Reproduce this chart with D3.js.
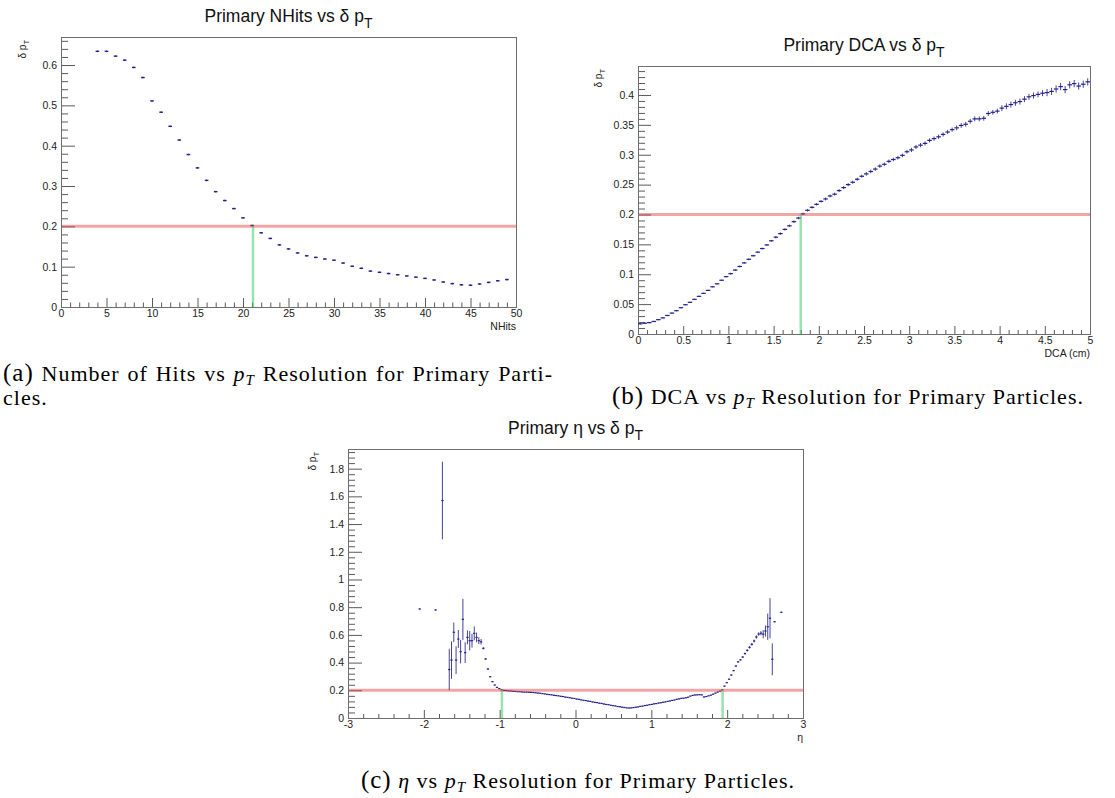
<!DOCTYPE html>
<html><head><meta charset="utf-8">
<script src="https://cdn.jsdelivr.net/npm/d3@7"></script>
<style>body{margin:0;background:#fff;} svg{display:block;}</style>
</head><body>
<svg id="c" width="1115" height="798"></svg>
<script>
// ================= DATA =================
const threshold = 0.2;

// (a) NHits vs delta pT
const nhits = [4,5,6,7,8,9,10,11,12,13,14,15,16,17,18,19,20,21,22,23,24,25,26,27,28,29,30,31,32,33,34,35,36,37,38,39,40,41,42,43,44,45,46,47,48,49];
const nhitsRes = [0.634,0.634,0.622,0.612,0.594,0.569,0.511,0.483,0.448,0.414,0.378,0.345,0.314,0.286,0.264,0.244,0.221,0.202,0.184,0.170,0.154,0.144,0.134,0.127,0.123,0.119,0.116,0.109,0.101,0.096,0.089,0.086,0.083,0.080,0.077,0.074,0.071,0.067,0.062,0.058,0.055,0.054,0.057,0.061,0.065,0.068];
const nhitsErr = [0.002,0.002,0.002,0.002,0.002,0.002,0.002,0.002,0.002,0.002,0.002,0.002,0.002,0.002,0.002,0.002,0.002,0.002,0.002,0.002,0.002,0.002,0.002,0.002,0.002,0.002,0.002,0.002,0.002,0.002,0.002,0.002,0.002,0.002,0.002,0.002,0.002,0.002,0.002,0.002,0.002,0.002,0.002,0.002,0.002,0.002];
const nhitsCross = [21.1];
const aXTicks = [0,5,10,15,20,25,30,35,40,45,50];
const aYTicks = [0,0.1,0.2,0.3,0.4,0.5,0.6];

// (b) DCA vs delta pT : 100 bins of 0.05 cm from 0 to 5
const dcaBinWidth = 0.05;
const dcaRes = [
0.017,0.018,0.019,0.021,0.024,0.027,0.031,0.035,0.039,0.044,
0.049,0.053,0.058,0.063,0.068,0.073,0.079,0.084,0.090,0.096,
0.101,0.107,0.113,0.119,0.125,0.131,0.137,0.143,0.149,0.156,
0.162,0.168,0.175,0.181,0.188,0.194,0.201,0.207,0.212,0.217,
0.222,0.226,0.231,0.234,0.240,0.245,0.250,0.254,0.259,0.264,
0.268,0.272,0.276,0.281,0.284,0.289,0.292,0.295,0.299,0.305,
0.308,0.313,0.316,0.319,0.324,0.327,0.330,0.334,0.338,0.342,
0.345,0.349,0.351,0.356,0.360,0.360,0.361,0.369,0.371,0.373,
0.378,0.381,0.384,0.387,0.389,0.393,0.397,0.399,0.401,0.403,
0.404,0.406,0.410,0.414,0.409,0.417,0.419,0.415,0.418,0.422];
const dcaErr = [
0.001,0.001,0.001,0.001,0.001,0.001,0.001,0.001,0.001,0.001,
0.001,0.001,0.001,0.001,0.001,0.001,0.001,0.001,0.001,0.001,
0.0015,0.0015,0.0015,0.0015,0.0015,0.0015,0.0015,0.0015,0.0015,0.0015,
0.002,0.002,0.002,0.002,0.002,0.002,0.002,0.002,0.002,0.002,
0.002,0.0025,0.0025,0.0025,0.0025,0.0025,0.0025,0.0025,0.0025,0.0025,
0.003,0.003,0.003,0.003,0.003,0.003,0.003,0.003,0.003,0.003,
0.0035,0.0035,0.0035,0.0035,0.0035,0.0035,0.0035,0.0035,0.0035,0.0035,
0.004,0.004,0.004,0.004,0.004,0.004,0.004,0.004,0.004,0.004,
0.005,0.005,0.005,0.005,0.005,0.005,0.005,0.005,0.005,0.005,
0.006,0.006,0.006,0.006,0.006,0.006,0.006,0.006,0.006,0.006];
const dcaCross = [1.8];
const bXTicks = [0,0.5,1,1.5,2,2.5,3,3.5,4,4.5,5];
const bYTicks = [0,0.05,0.1,0.15,0.2,0.25,0.3,0.35,0.4];

// (c) eta vs delta pT : bins of 0.03 from -3 to 3; listed from bin 31 (eta=-2.055) to bin 190 (eta=2.715); null = empty bin
const etaBinWidth = 0.03;
const etaFirstBin = 31;
const etaRes = [
0.787,null,null,null,null,null,null,0.780,null,null,
1.57,null,null,0.35,0.418,0.619,0.418,0.570,0.479,0.712,
0.472,0.582,0.558,0.558,0.611,0.582,0.558,0.550,0.503,0.426,
0.354,0.298,0.262,0.238,0.221,0.212,0.203,0.199,0.198,0.196,
0.195,0.193,0.192,0.190,0.190,0.188,0.187,0.187,0.186,0.185,
0.184,0.182,0.180,0.179,0.176,0.174,0.171,0.169,0.167,0.164,
0.162,0.160,0.157,0.155,0.151,0.149,0.146,0.143,0.141,0.137,
0.135,0.131,0.128,0.126,0.122,0.120,0.116,0.113,0.111,0.107,
0.105,0.101,0.098,0.096,0.092,0.089,0.087,0.083,0.081,0.078,
0.076,0.073,0.072,0.073,0.075,0.078,0.080,0.084,0.086,0.090,
0.092,0.096,0.098,0.102,0.104,0.108,0.110,0.114,0.116,0.120,
0.123,0.127,0.130,0.135,0.138,0.142,0.143,0.146,0.150,0.158,
0.163,0.166,0.167,0.168,0.167,0.152,0.155,0.160,0.165,0.172,
0.180,0.187,0.194,0.203,0.230,0.255,0.280,0.310,0.342,0.375,
0.405,0.420,0.440,0.465,0.488,0.510,0.532,0.556,0.585,0.606,
0.612,0.605,0.628,0.659,0.720,0.424,0.695,null,null,0.763];
const etaErr = [
0.004,null,null,null,null,null,null,0.004,null,null,
0.28,null,null,0.15,0.135,0.07,0.10,0.065,0.085,0.148,
0.075,0.05,0.07,0.05,0.05,0.035,0.025,0.02,0.008,0.006,
0.005,0.004,0.003,0.003,0.002,0.002,0.002,0.002,0.002,0.002,
0.002,0.002,0.002,0.002,0.002,0.002,0.002,0.002,0.002,0.002,
0.002,0.002,0.002,0.002,0.002,0.002,0.002,0.002,0.002,0.002,
0.002,0.002,0.002,0.002,0.002,0.002,0.002,0.002,0.002,0.002,
0.002,0.002,0.002,0.002,0.002,0.002,0.002,0.002,0.002,0.002,
0.002,0.002,0.002,0.002,0.002,0.002,0.002,0.002,0.002,0.002,
0.002,0.002,0.002,0.002,0.002,0.002,0.002,0.002,0.002,0.002,
0.002,0.002,0.002,0.002,0.002,0.002,0.002,0.002,0.002,0.002,
0.002,0.002,0.002,0.002,0.002,0.002,0.002,0.002,0.002,0.002,
0.002,0.002,0.002,0.002,0.002,0.002,0.002,0.002,0.002,0.002,
0.002,0.002,0.002,0.002,0.003,0.003,0.003,0.004,0.004,0.005,
0.005,0.006,0.006,0.007,0.008,0.009,0.010,0.010,0.012,0.012,
0.015,0.03,0.04,0.095,0.145,0.115,0.004,null,null,0.004];
const etaCross = [-0.97, 1.94];
const cXTicks = [-3,-2,-1,0,1,2,3];
const cYTicks = [0,0.2,0.4,0.6,0.8,1,1.2,1.4,1.6,1.8];

// ================= DRAWING =================
const svg = d3.select("#c");
const SANS = "'Liberation Sans', Arial, Helvetica, sans-serif";
const SERIF = "'Liberation Serif', 'Times New Roman', serif";
const MARK = "#22228c";
const FRAME = "#6e6e6e";
const TICK = "#5a5a5a";

function minorTicks(major, step, dom) {
  const out = [];
  const n = Math.round((dom[1] - dom[0]) / step);
  for (let i = 0; i <= n; i++) {
    const v = +(dom[0] + i * step).toFixed(6);
    if (v > dom[1] + 1e-9) break;
    if (!major.some(t => Math.abs(t - v) < 1e-9)) out.push(v);
  }
  return out;
}

function panel(o) {
  const x = d3.scaleLinear().domain(o.xDomain).range([o.x0, o.x1]);
  const y = d3.scaleLinear().domain(o.yDomain).range([o.y1, o.y0]);
  const g = svg.append("g");
  const style = s => {
    s.select(".domain").remove();
    s.selectAll("line").attr("stroke", TICK).attr("stroke-width", 1);
    s.selectAll("text").attr("font-family", SANS).attr("font-size", 10.5).attr("fill", "#222");
  };
  const xMin = minorTicks(o.xTicks, o.xMinorStep, o.xDomain);
  const yMin = minorTicks(o.yTicks, o.yMinorStep, [0, o.yDomain[1]]);
  g.append("g").attr("transform", `translate(0,${o.y1})`)
    .call(d3.axisBottom(x).tickValues(xMin).tickSize(-o.xMinLen).tickFormat("")).call(style);
  g.append("g").attr("transform", `translate(0,${o.y1})`)
    .call(d3.axisBottom(x).tickValues(o.xTicks).tickSize(-o.xMajLen).tickPadding(3).tickFormat(d => String(d))).call(style);
  g.append("g").attr("transform", `translate(${o.x0},0)`)
    .call(d3.axisLeft(y).tickValues(yMin).tickSize(-o.yMinLen).tickFormat("")).call(style);
  g.append("g").attr("transform", `translate(${o.x0},0)`)
    .call(d3.axisLeft(y).tickValues(o.yTicks).tickSize(-o.yMajLen).tickPadding(4).tickFormat(d => String(d))).call(style);
  // frame
  g.append("rect").attr("x", o.x0 + 0.5).attr("y", o.y0 + 0.5)
    .attr("width", o.x1 - o.x0).attr("height", o.y1 - o.y0)
    .attr("fill", "none").attr("stroke", FRAME).attr("stroke-width", 1);
  // data
  const d = g.append("g").attr("stroke", MARK).attr("fill", "none");
  o.points.forEach(p => {
    const hw = o.halfWidthPx != null ? o.halfWidthPx : (x(p.x + o.halfBin) - x(p.x - o.halfBin)) / 2;
    const cx = x(p.x), cy = y(p.v);
    d.append("line").attr("x1", cx - hw).attr("x2", cx + hw).attr("y1", cy).attr("y2", cy).attr("stroke-width", o.markW || 1.2);
    d.append("line").attr("x1", cx).attr("x2", cx).attr("y1", y(p.v - p.e)).attr("y2", y(p.v + p.e)).attr("stroke-width", 1).attr("stroke-opacity", 0.85);
  });
  // threshold line and crossings
  g.append("line").attr("x1", o.x0 + 1).attr("x2", o.x1).attr("y1", y(threshold)).attr("y2", y(threshold))
    .attr("stroke", "#e03a3a").attr("stroke-opacity", 0.45).attr("stroke-width", 3);
  o.cross.forEach(c => {
    g.append("line").attr("x1", x(c)).attr("x2", x(c)).attr("y1", y(0)).attr("y2", y(threshold))
      .attr("stroke", "#33c860").attr("stroke-opacity", 0.5).attr("stroke-width", 2.5);
  });
  // title
  const t = svg.append("text").attr("x", (o.x0 + o.x1) / 2).attr("y", o.y0 - 15)
    .attr("text-anchor", "middle").attr("font-family", SANS).attr("font-size", 17.5).attr("fill", "#111");
  t.append("tspan").text(o.title + " p");
  t.append("tspan").attr("dy", 6).attr("font-size", 14).text("T");
  // y-axis title
  const yt = svg.append("text").attr("transform", `translate(${o.yTitleX},${o.y0 + 3}) rotate(-90)`)
    .attr("text-anchor", "end").attr("font-family", SANS).attr("font-size", 10).attr("fill", "#222");
  yt.append("tspan").text("δ p");
  yt.append("tspan").attr("dy", 3).attr("font-size", 7.5).text("T");
  // x-axis title
  svg.append("text").attr("x", o.x1).attr("y", o.y1 + 23).attr("text-anchor", "end")
    .attr("font-family", SANS).attr("font-size", 10.5).attr("fill", "#222").text(o.xTitle);
}

panel({
  x0: 61, x1: 516, y0: 37, y1: 307, xDomain: [0, 50], yDomain: [0, 0.6695],
  xTicks: aXTicks, yTicks: aYTicks, xMinorStep: 1, yMinorStep: 0.02,
  xMajLen: 9, xMinLen: 4.5, yMajLen: 14, yMinLen: 7,
  points: nhits.map((n, i) => ({x: n, v: nhitsRes[i], e: nhitsErr[i]})),
  halfWidthPx: 1.8, markW: 1.4, cross: nhitsCross,
  title: "Primary NHits vs δ", xTitle: "NHits", yTitleX: 26
});
panel({
  x0: 638, x1: 1090, y0: 66, y1: 334, xDomain: [0, 5], yDomain: [0, 0.4485],
  xTicks: bXTicks, yTicks: bYTicks, xMinorStep: 0.1, yMinorStep: 0.01,
  xMajLen: 8, xMinLen: 4, yMajLen: 13, yMinLen: 7,
  points: dcaRes.map((v, i) => ({x: (i + 0.5) * dcaBinWidth, v: v, e: dcaErr[i]})),
  halfBin: dcaBinWidth / 2, cross: dcaCross,
  title: "Primary DCA vs δ", xTitle: "DCA (cm)", yTitleX: 602
});
panel({
  x0: 348, x1: 803, y0: 449, y1: 718, xDomain: [-3, 3], yDomain: [0, 1.942],
  xTicks: cXTicks, yTicks: cYTicks, xMinorStep: 0.2, yMinorStep: 0.04,
  xMajLen: 8, xMinLen: 4, yMajLen: 14, yMinLen: 7,
  points: etaRes.map((v, i) => ({x: -3 + (etaFirstBin + i + 0.5) * etaBinWidth, v: v, e: etaErr[i]})).filter(p => p.v != null),
  halfBin: etaBinWidth / 2, cross: etaCross,
  title: "Primary η vs δ", xTitle: "η", yTitleX: 316
});

// ================= CAPTIONS =================
const CAP_LS = 1.0;
function caption(x, y, anchor, label, pre, post, justifyTo, preItalic) {
  const t = svg.append("text").attr("x", x).attr("y", y).attr("text-anchor", anchor)
    .attr("font-family", SERIF).attr("font-size", 22).attr("letter-spacing", CAP_LS).attr("fill", "#000");
  t.append("tspan").attr("font-size", 25).text(label);
  t.append("tspan").text(" ");
  if (preItalic) {
    t.append("tspan").attr("font-style", "italic").text(preItalic);
    t.append("tspan").text(" " + pre + " ");
  } else {
    t.append("tspan").text(pre + " ");
  }
  t.append("tspan").attr("font-style", "italic").text("p");
  t.append("tspan").attr("font-style", "italic").attr("font-size", 15).attr("dy", 4).text("T");
  t.append("tspan").attr("dy", -4).text(" " + post);
  if (justifyTo) {
    const w = t.node().getBBox().width;
    const spaces = (t.text().match(/ /g) || []).length;
    t.attr("word-spacing", Math.max(0, (justifyTo - x - w) / spaces));
  }
  return t;
}
caption(3, 381, "start", "(a)", "Number of Hits vs", "Resolution for Primary Parti-", 553);
svg.append("text").attr("x", 3).attr("y", 405).attr("font-family", SERIF).attr("font-size", 22)
  .attr("letter-spacing", CAP_LS).text("cles.");
caption(848, 404, "middle", "(b)", "DCA vs", "Resolution for Primary Particles.");
caption(578, 788, "middle", "(c)", "vs", "Resolution for Primary Particles.", null, "η");
</script>
</body></html>
